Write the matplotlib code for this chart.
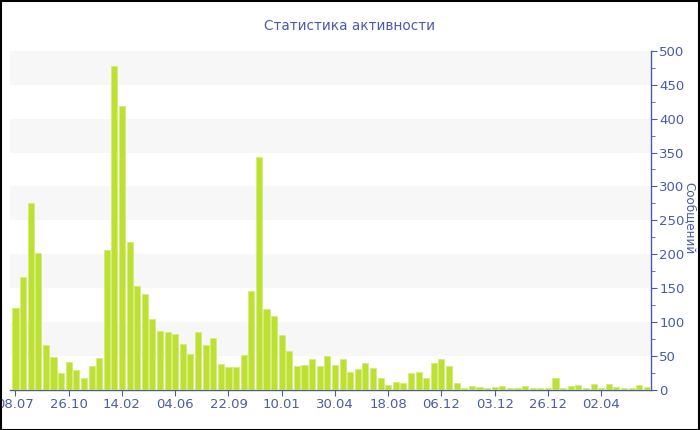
import matplotlib.pyplot as plt
from matplotlib.patches import Rectangle
from matplotlib.ticker import MultipleLocator

# сообщений за период, по порядку
messages = [
    121, 166, 276, 202, 66, 49, 25, 42, 30, 18,
    35, 47, 206, 477, 418, 218, 154, 142, 105, 87,
    85, 82, 68, 53, 85, 67, 76, 39, 34, 34,
    52, 146, 344, 119, 109, 81, 57, 35, 37, 46,
    36, 50, 37, 46, 27, 31, 40, 32, 18, 7,
    12, 10, 25, 26, 17, 40, 45, 36, 11, 3,
    6, 4, 3, 4, 6, 3, 3, 6, 3, 3,
    3, 18, 3, 6, 7, 3, 9, 3, 9, 4,
    3, 3, 7, 4,
]
tick_labels = ["08.07", "26.10", "14.02", "04.06", "22.09", "10.01",
               "30.04", "18.08", "06.12", "03.12", "26.12", "02.04"]
tick_step = 7

blue = "#4a5ca6"
bar_color = "#bce132"

fig = plt.figure(figsize=(7, 4.3), dpi=100)
ax = fig.add_axes([0.0143, 0.093, 0.9157, 0.789])

x = list(range(len(messages)))
ax.bar(x, messages, width=0.8, color=bar_color, edgecolor="#d4ec7a",
       linewidth=0.6, zorder=3)

ax.set_xlim(-0.72, len(messages) - 0.45)
ax.set_ylim(0, 500)

# светлые полосы фона
for lo in range(50, 500, 100):
    ax.axhspan(lo, lo + 50, color="#f7f7f7", zorder=0, lw=0)

ax.set_xticks(x[::tick_step])
ax.set_xticklabels(tick_labels)

ax.yaxis.tick_right()
ax.yaxis.set_label_position("right")
ax.yaxis.set_major_locator(MultipleLocator(50))
ax.yaxis.set_minor_locator(MultipleLocator(25))
ax.set_ylabel("Сообщений", rotation=270, color=blue, fontsize=8.6,
              va="center", ha="center")
ax.yaxis.set_label_coords(1.061, 0.506)

for side in ["top", "left"]:
    ax.spines[side].set_visible(False)
for side in ["bottom", "right"]:
    ax.spines[side].set_color(blue)
    ax.spines[side].set_linewidth(1.0)

ax.tick_params(axis="both", colors=blue, labelsize=9.5, length=4, pad=2)
ax.tick_params(axis="y", which="minor", colors=blue, length=3)

fig.text(0.5, 0.94, "Статистика активности", ha="center", va="center",
         color=blue, fontsize=9.8)

# рамка вокруг картинки
fig.patches.append(Rectangle((0.001, 0.001), 0.997, 0.997, transform=fig.transFigure,
                             fill=False, edgecolor="black", linewidth=1.5))

fig.savefig("out.png", dpi=100)
